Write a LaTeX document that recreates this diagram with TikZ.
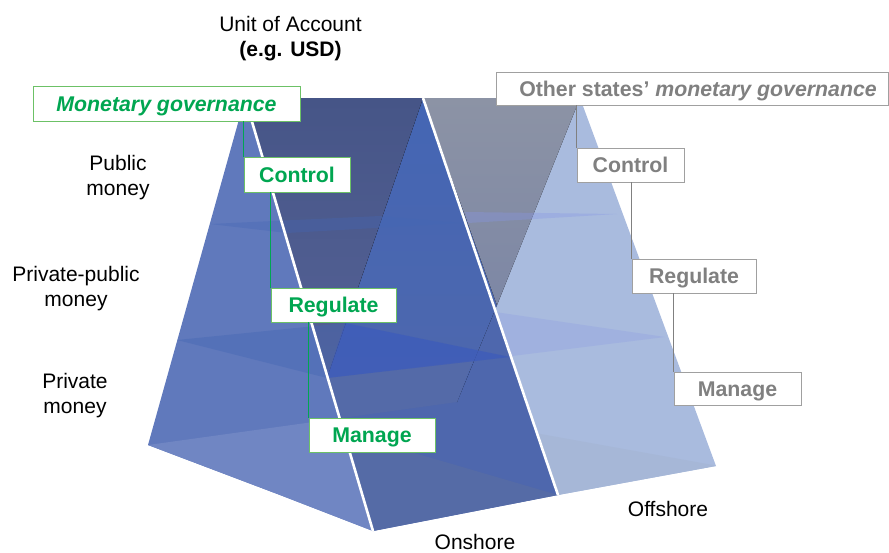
\documentclass[tikz,border=0pt]{standalone}
\usepackage{fontspec}
\setmainfont{Liberation Sans}
\definecolor{govgreen}{HTML}{00A651}
\definecolor{govedge}{HTML}{6CC166}
\definecolor{othergrey}{HTML}{808080}
\definecolor{otheredge}{HTML}{A0A0A0}
\definecolor{faceleft}{HTML}{6079BC}
\definecolor{facemid}{HTML}{4E67AD}
\definecolor{faceridge}{HTML}{4466B4}
\definecolor{faceright}{HTML}{A9BBDE}
\definecolor{darktop}{HTML}{465587}
\definecolor{darkbot}{HTML}{556296}
\definecolor{greytop}{HTML}{8C93A5}
\definecolor{greybot}{HTML}{7D87A5}
\tikzset{
    lbl/.style = {align=center, font=\fontsize{21}{25}\selectfont},
    boxtext/.style = {fill=white, line width=0.9pt, inner sep=0pt, text height=15pt, text depth=0pt, font=\fontsize{21.3}{25}\selectfont\bfseries},
    govbox/.style = {boxtext, draw=govedge, text=govgreen},
    otherbox/.style = {boxtext, draw=otheredge, text=othergrey},
    govlink/.style = {draw=govgreen, line width=0.8pt},
    otherlink/.style = {draw=othergrey, line width=0.8pt},
    ridge/.style = {draw=white, line width=2.6pt}
}
\begin{document}
\begin{tikzpicture}[x = 1pt, y = -1pt]
    \useasboundingbox (0,0) rectangle (889,552);
    % faces
    \fill[faceright] (423,98) -- (580,98) -- (716,466) -- (558,495) -- cycle;
    \fill[faceright!93!gray] (558,495) -- (535,433) -- (713,465) -- (716,466) -- cycle;
    \fill[faceleft] (245,98) -- (148,445) -- (280,495) -- (373,531) -- cycle;
    \fill[faceleft!90!white] (148,445) -- (342,418) -- (373,531) -- (280,495) -- cycle;
    \fill[facemid] (423,98) -- (558,495) -- (373,531) -- (245,98) -- cycle;
    \fill[top color=faceridge, bottom color=facemid] (423,98) -- (497,305) -- (457,402) -- (327,378) -- cycle;
    % back of the prisms
    \fill[top color=darktop, bottom color=darkbot] (245,98) -- (423,98) -- (327,378) -- cycle;
    \fill[top color=greytop, bottom color=greybot] (423,98) -- (580,98) -- (497,305) -- cycle;
    \fill[facemid!88!gray] (327,378) -- (473,360) -- (457,402) -- (342,418) -- cycle;
    \fill[facemid!85!gray] (346,433) -- (558,495) -- (373,531) -- cycle;
    % slices
    \fill[fill=faceridge, fill opacity=.35] (210,224) -- (380,216) -- (463,223) -- (287,233) -- cycle;
    \fill[fill=faceright!80!blue, fill opacity=.35] (465,212) -- (617,214) -- (468,223) -- cycle;
    \fill[fill=faceridge, fill opacity=.4] (177,340) -- (345,323) -- (510,357) -- (327,378) -- cycle;
    \fill[fill=faceridge!85!blue, fill opacity=.5] (345,323) -- (510,357) -- (327,378) -- cycle;
    \fill[fill=faceright!85!blue, fill opacity=.35] (495,312) -- (665,337) -- (512,356) -- cycle;
    % ridges
    \draw[ridge] (245,98) -- (373,531);
    \draw[ridge] (423,98) -- (558,495);
    % boxes
    \node[govbox, minimum width=267pt, minimum height=35pt] (govmain) at (166.5,103.5) {\itshape Monetary governance};
    \node[govbox, minimum width=106pt, minimum height=35pt] (govctrl) at (297,174.5) {Control};
    \node[govbox, minimum width=125pt, minimum height=34pt] (govreg) at (333.5,305) {Regulate};
    \node[govbox, minimum width=126pt, minimum height=34pt] (govman) at (372,435) {Manage};
    \node[otherbox, minimum width=392pt, minimum height=33pt] (othmain) at (692.5,88.5) {\hspace*{11pt}Other states’ \textit{monetary governance}};
    \node[otherbox, minimum width=107pt, minimum height=34pt] (othctrl) at (630.5,165) {Control};
    \node[otherbox, minimum width=124pt, minimum height=34pt] (othreg) at (694,276) {Regulate};
    \node[otherbox, minimum width=127pt, minimum height=33pt] (othman) at (737.5,388.5) {Manage};
    % links
    \draw[govlink] (govctrl.north west |- govmain.south) -- (govctrl.north west);
    \draw[govlink] (govreg.north west |- govctrl.south) -- (govreg.north west);
    \draw[govlink] (govman.north west |- govreg.south) -- (govman.north west);
    \draw[otherlink] (othctrl.north west |- othmain.south) -- (othctrl.north west);
    \draw[otherlink] (othreg.north west |- othctrl.south) -- (othreg.north west);
    \draw[otherlink] (othman.north west |- othreg.south) -- (othman.north west);
    % labels
    \node[lbl] (unit) at (290.5,39) {Unit of Account\\\textbf{(e.g. USD)}};
    \node[lbl] (pub) at (118,178) {Public\\money};
    \node[lbl] (pubpriv) at (76,289) {Private-public\\money};
    \node[lbl] (priv) at (75,396) {Private\\money};
    \node[lbl] (off) at (668,508.5) {Offshore};
    \node[lbl] (on) at (475,541.5) {Onshore};
\end{tikzpicture}
\end{document}
